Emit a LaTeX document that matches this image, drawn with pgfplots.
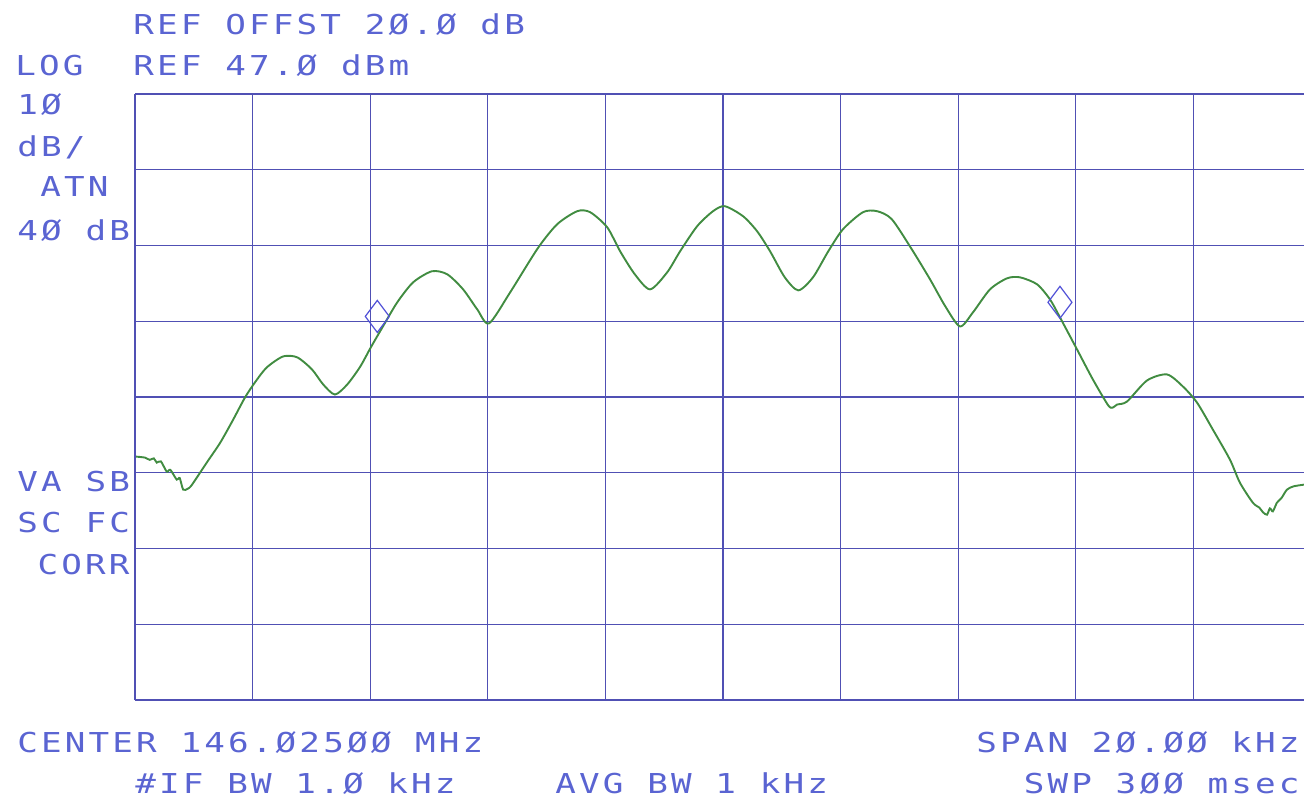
\documentclass[border=0pt]{standalone}
\usepackage{pgfplots}
\pgfplotsset{compat=1.18}
\usepackage{fontspec}
\newfontfamily\hp[FakeStretch=1.25,LetterSpace=11.5]{DejaVu Sans Mono}
\definecolor{hptext}{RGB}{90,100,210}
\definecolor{hpgrid}{RGB}{80,80,180}
\definecolor{hptrace}{RGB}{65,140,65}
\definecolor{hpmark}{RGB}{80,80,215}
\begin{document}
\begin{tikzpicture}
\path[use as bounding box] (-67.5bp,-50bp) rectangle (584.5bp,350bp);
\begin{axis}[
  at={(0,0)}, anchor=south west,
  scale only axis, width=584.5bp, height=303bp,
  xmin=-10, xmax=9.88, ymin=-33, ymax=47,
  xtick={-10,-8,-6,-4,-2,0,2,4,6,8}, ytick={-33,-23,-13,-3,7,17,27,37,47},
  xticklabels={}, yticklabels={},
  major tick length=0pt,
  axis line style={draw=none},
  grid=major,
  major grid style={hpgrid, line width=0.6bp},
]
\addplot[hptrace, line width=0.95bp, mark=none, smooth, tension=0.45] coordinates {
(-9.98,-0.87) (-9.83,-1.00) (-9.75,-1.3) (-9.68,-1.1) (-9.63,-1.66) (-9.56,-1.5)
(-9.46,-2.85) (-9.40,-2.6) (-9.29,-3.91) (-9.24,-3.7) (-9.18,-5.23) (-9.10,-5.1)
(-9.03,-4.57) (-8.78,-1.66) (-8.55,0.98) (-8.33,4.02) (-8.13,6.93) (-7.96,8.93)
(-7.76,10.90) (-7.48,12.36) (-7.24,12.23) (-6.99,10.64) (-6.80,8.66) (-6.60,7.33)
(-6.39,8.66) (-6.17,11.01) (-5.99,13.55) (-5.78,16.36) (-5.54,19.50) (-5.27,22.14)
(-4.95,23.60) (-4.69,23.20) (-4.42,21.21) (-4.18,18.57) (-3.98,16.72) (-3.62,20.82)
(-3.15,26.64) (-2.82,29.81) (-2.48,31.53) (-2.26,31.40) (-1.97,29.41) (-1.75,26.24)
(-1.50,23.20) (-1.24,21.21) (-0.95,23.46) (-0.73,26.24) (-0.44,29.55) (-0.17,31.53)
(0.03,32.19) (0.34,30.87) (0.58,28.88) (0.80,26.24) (1.05,22.80) (1.28,21.08)
(1.53,22.80) (1.79,26.24) (2.04,29.15) (2.38,31.40) (2.62,31.53) (2.87,30.47)
(3.21,26.50) (3.52,22.54) (3.78,18.97) (4.03,16.32) (4.25,18.17) (4.54,21.21)
(4.83,22.67) (5.05,22.80) (5.34,21.88) (5.56,19.89) (5.73,17.51) (6.02,13.28)
(6.29,9.31) (6.55,5.9) (6.63,5.61) (6.70,6.0) (6.87,6.40) (7.21,9.18) (7.55,9.98)
(7.82,8.39) (8.06,6.27) (8.33,2.70) (8.62,-1.26) (8.79,-4.31) (9.01,-6.95)
(9.12,-7.6) (9.18,-8.2) (9.25,-8.54) (9.30,-7.7) (9.35,-8.1) (9.42,-6.95)
(9.50,-6.3) (9.59,-5.23) (9.70,-4.8) (9.88,-4.57)
};
\addplot[only marks, mark=diamond, mark size=8bp, mark options={draw=hpmark, fill=none, line width=0.6bp}] coordinates {
(-5.88,17.64) (5.73,19.50)
};
\end{axis}
\begin{scope}[every node/.style={inner sep=0pt, text=hptext, font=\hp\fontsize{13.7bp}{15bp}\selectfont}]
\node[anchor=base west] at (-1bp,332.5bp) {REF OFFST 2Ø.Ø dB};
\node[anchor=base west] at (-60bp,312bp) {LOG};
\node[anchor=base west] at (-1bp,312bp) {REF 47.Ø dBm};
\node[anchor=base west] at (-59bp,292.5bp) {1Ø};
\node[anchor=base west] at (-59bp,271.5bp) {dB/};
\node[anchor=base west] at (-47.5bp,251.5bp) {ATN};
\node[anchor=base west] at (-59bp,229.5bp) {4Ø dB};
\node[anchor=base west] at (-59bp,104bp) {VA SB};
\node[anchor=base west] at (-59bp,83.5bp) {SC FC};
\node[anchor=base east] at (-2.5bp,62.5bp) {CORR};
\node[anchor=base west] at (-59bp,-26bp) {CENTER 146.Ø25ØØ MHz};
\node[anchor=base east] at (582.5bp,-26bp) {SPAN 2Ø.ØØ kHz};
\node[anchor=base west] at (0bp,-46.5bp) {\#IF BW 1.Ø kHz};
\node[anchor=base west] at (210bp,-46.5bp) {AVG BW 1 kHz};
\node[anchor=base east] at (582.5bp,-46.5bp) {SWP 3ØØ msec};
\end{scope}
\end{tikzpicture}
\end{document}
